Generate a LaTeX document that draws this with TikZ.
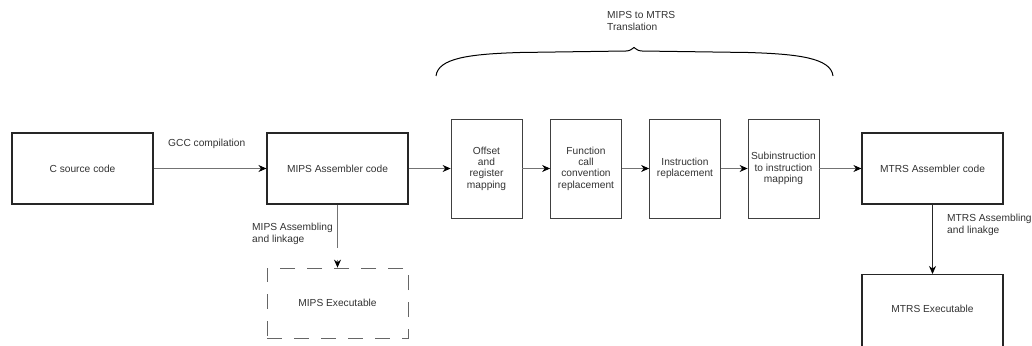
\documentclass[tikz,border=0pt]{standalone}
\usepackage{fontspec}
\setmainfont{Liberation Sans}
\usetikzlibrary{arrows.meta}
\begin{document}
\begin{tikzpicture}[x=1pt,y=-1pt,
  font=\fontsize{10.2}{11.3}\selectfont,
  mainbox/.style={draw=black!85,line width=1.2pt,minimum width=141pt,minimum height=71pt,inner sep=0pt,text=black!80},
  stagebox/.style={draw=black!75,line width=0.8pt,minimum width=71pt,minimum height=99pt,inner sep=1pt,align=center,text=black!80},
  dashbox/.style={draw=black!60,line width=0.8pt,dash pattern=on 15pt off 12pt,minimum width=141pt,minimum height=70pt,inner sep=0pt,text=black!80},
  flow/.style={draw=black!55,line width=0.8pt,-{Stealth[length=8pt,width=7pt,black]}},
  lbl/.style={text=black!80,align=left,inner sep=0pt,anchor=west}]
\clip (0,0) rectangle (1032,345);
\fill[white] (0,0) rectangle (1032,345);

% main boxes
\node[mainbox] (csrc) at (82.5,168.5) {C source code};
\node[mainbox] (mips) at (337.5,168.5) {MIPS Assembler code};
\node[mainbox] (mtrs) at (932.5,168.5) {MTRS Assembler code};
\node[dashbox] (mipsexe) at (337.5,303) {MIPS Executable};
\node[mainbox,minimum height=80pt,anchor=north] (mtrsexe) at (932.5,274) {};
\node[text=black!80] (mtrsexetxt) at (932.5,309) {MTRS Executable};

% translation stages
\node[stagebox] (s1) at (486.5,168.5) {Offset\\and\\register\\mapping};
\node[stagebox] (s2) at (586,168.5) {Function\\call\\convention\\replacement};
\node[stagebox] (s3) at (685,168.5) {Instruction\\replacement};
\node[stagebox] (s4) at (783.5,168.5) {Subinstruction\\to instruction\\mapping};

% connectors
\draw[flow] (csrc.east) -- (mips.west);
\draw[flow] (mips.east) -- (s1.west);
\draw[flow] (s1.east) -- (s2.west);
\draw[flow] (s2.east) -- (s3.west);
\draw[flow] (s3.east) -- (s4.west);
\draw[flow] (s4.east) -- (mtrs.west);
\draw[flow,dash pattern=on 43pt off 12pt] (mips.south) -- (mipsexe.north);
\draw[flow,draw=black!85] (mtrs.south) -- (mtrsexe.north);

% labels
\node[lbl] (gcc) at (168,144) {GCC compilation};
\node[lbl] (mipsasm) at (252,234) {MIPS Assembling\\and linkage};
\node[lbl] (mtrsasm) at (947,225) {MTRS Assembling\\and linakge};

% brace over the translation stages
\draw[black,line width=1pt]
  (436,76) .. controls (438,58) and (470,54) .. (520,52.5)
  -- (626,51) .. controls (630,51) and (632,49) .. (634,47.5)
  .. controls (636,49) and (638,51) .. (642,51)
  -- (748,52.5) .. controls (798,54) and (831,58) .. (833,76);
\node[lbl] (trans) at (607,21) {MIPS to MTRS\\Translation};
\end{tikzpicture}
\end{document}
